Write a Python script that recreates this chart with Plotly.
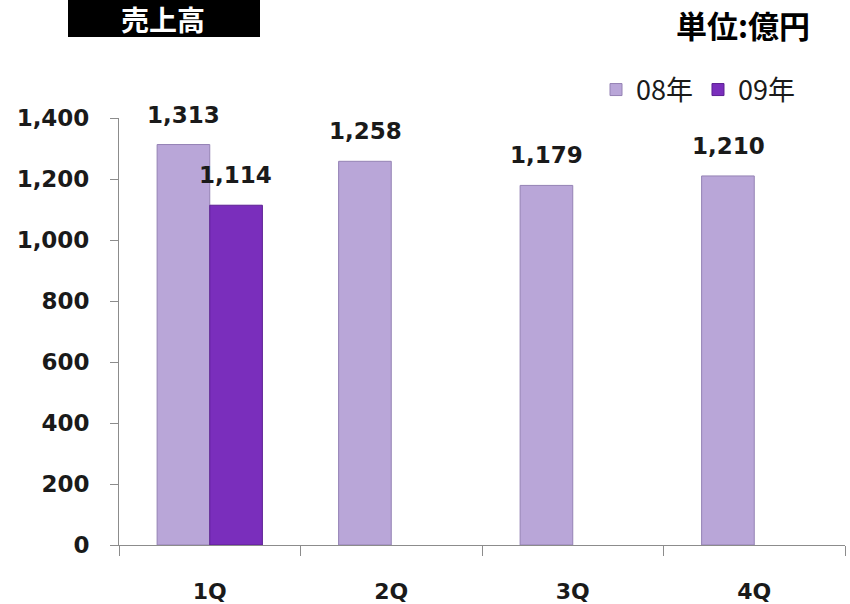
import plotly.graph_objects as go

categories = ["1Q", "2Q", "3Q", "4Q"]
sales_08 = [1313, 1258, 1179, 1210]
sales_09 = [1114, None, None, None]
y_ticks = [0, 200, 400, 600, 800, 1000, 1200, 1400]
y_tick_labels = ["0", "200", "400", "600", "800", "1,000", "1,200", "1,400"]

NUM_FONT = "DejaVu Sans"
CJK_FONT = "Noto Sans CJK JP"

fig = go.Figure()
fig.add_trace(go.Bar(
    x=categories, y=sales_08, name="08年",
    marker=dict(color="#b9a6d8", line=dict(color="#9482b4", width=1)),
))
fig.add_trace(go.Bar(
    x=categories, y=sales_09, name="09年",
    marker=dict(color="#7a2ebc", line=dict(color="#5c1f92", width=1)),
))

# value labels above the bars (08 bars sit left of center, 09 right)
for series, shift in ((sales_08, -26), (sales_09, 26)):
    for cat, v in zip(categories, series):
        if v is None:
            continue
        fig.add_annotation(x=cat, y=v, xref="x", yref="y", text=f"<b>{v:,}</b>",
                           showarrow=False, xshift=shift, yshift=30,
                           xanchor="center", yanchor="middle",
                           font=dict(family=NUM_FONT, size=23, color="#1a1a1a"))

fig.update_layout(
    width=850, height=604,
    margin=dict(l=119, r=5, t=118, b=59, autoexpand=False),
    paper_bgcolor="white", plot_bgcolor="white",
    barmode="group", bargap=0.42, bargroupgap=0,
    showlegend=True,
    legend=dict(orientation="h", x=(596 - 119) / 726, y=(545 - 90) / 427,
                xanchor="left", yanchor="middle",
                font=dict(family=CJK_FONT, size=27, color="#1a1a1a"),
                bgcolor="rgba(0,0,0,0)", traceorder="normal",
                itemwidth=30, tracegroupgap=0),
    xaxis=dict(showline=True, linecolor="#8c8c8c", linewidth=1,
               ticks="outside", tickson="boundaries", ticklen=10, tickcolor="#8c8c8c",
               tickfont=dict(family=NUM_FONT, size=22, color="#1a1a1a", weight="bold"),
               ticklabelstandoff=27, showgrid=False, automargin=False),
    yaxis=dict(range=[0, 1400], tickvals=y_ticks, ticktext=y_tick_labels,
               showline=True, linecolor="#8c8c8c", linewidth=1,
               ticks="outside", ticklen=8, tickcolor="#8c8c8c",
               tickfont=dict(family=NUM_FONT, size=23, color="#1a1a1a", weight="bold"),
               ticklabelstandoff=16, showgrid=False, zeroline=False, automargin=False),
    font=dict(family=NUM_FONT),
)

# title box
fig.add_shape(type="rect", xref="paper", yref="paper",
              x0=(68 - 119) / 726, x1=(260 - 119) / 726,
              y0=(545 - 37) / 427, y1=(545 + 2) / 427,
              fillcolor="black", line=dict(width=0), layer="above")
fig.add_annotation(text="<b>売上高</b>", xref="paper", yref="paper",
                   x=(163 - 119) / 726, y=(545 - 19) / 427, showarrow=False,
                   font=dict(family=CJK_FONT, size=28, color="white"),
                   xanchor="center", yanchor="middle", borderpad=0)
fig.add_annotation(text="<b>単位:億円</b>", xref="paper", yref="paper",
                   x=(743 - 119) / 726, y=(545 - 25) / 427, showarrow=False,
                   font=dict(family=CJK_FONT, size=31, color="black"),
                   xanchor="center", yanchor="middle", borderpad=0)

fig.write_html("out.html", config={"displayModeBar": False},
               post_script="document.body.style.margin='0px';")
